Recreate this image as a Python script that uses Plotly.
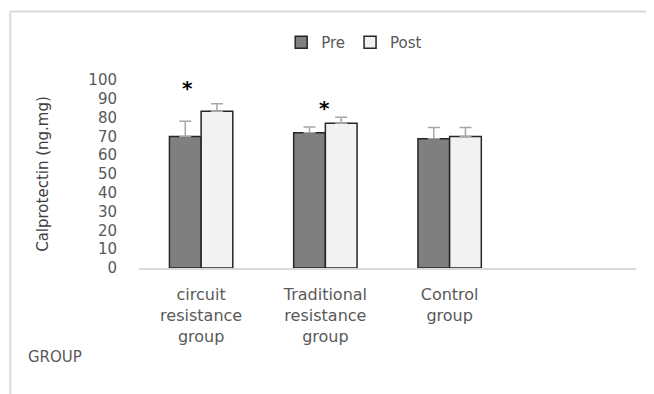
import plotly.graph_objects as go

categories = ["circuit<br>resistance<br>group", "Traditional<br>resistance<br>group", "Control<br>group"]
pre_values = [70, 72, 68.7]
pre_errors = [8, 3, 6]
post_values = [83.4, 77, 70]
post_errors = [4, 3.2, 4.8]
star_categories = [categories[0], categories[1]]
star_values = [96, 85]
star_shifts = [-14, -1]
y_ticks = [0, 10, 20, 30, 40, 50, 60, 70, 80, 90, 100]

FONT = "DejaVu Sans"
GRAY = "#595959"

fig = go.Figure()
fig.add_trace(go.Bar(
    name="Pre", x=categories, y=pre_values,
    marker=dict(color="#7f7f7f", line=dict(color="#262626", width=1.5)),
    error_y=dict(type="data", array=pre_errors, arrayminus=[0] * 3, symmetric=False,
                 color="#a6a6a6", thickness=1.5, width=6),
))
fig.add_trace(go.Bar(
    name="Post", x=categories, y=post_values,
    marker=dict(color="#f2f2f2", line=dict(color="#262626", width=1.5)),
    error_y=dict(type="data", array=post_errors, arrayminus=[0] * 3, symmetric=False,
                 color="#a6a6a6", thickness=1.5, width=6),
))

for c, v, s in zip(star_categories, star_values, star_shifts):
    fig.add_annotation(x=c, y=v, text="<b>*</b>", showarrow=False, xshift=s,
                       font=dict(family=FONT, size=20, color="#000000"))

fig.add_annotation(xref="paper", yref="paper", x=-0.227, y=-0.475, text="GROUP",
                   showarrow=False, xanchor="left", yanchor="middle",
                   font=dict(family=FONT, size=15, color=GRAY))

# chart area border (top + left)
fig.add_shape(type="line", xref="paper", yref="paper", x0=-0.259, x1=1.2, y0=1.365, y1=1.365,
              line=dict(color="#d9d9d9", width=2))
fig.add_shape(type="line", xref="paper", yref="paper", x0=-0.259, x1=-0.259, y0=-0.8, y1=1.365,
              line=dict(color="#d9d9d9", width=2))

fig.update_layout(
    width=646, height=386,
    margin=dict(l=131, r=18, t=72, b=126, autoexpand=False),
    paper_bgcolor="white", plot_bgcolor="white",
    barmode="group", bargap=0.49, bargroupgap=0,
    showlegend=True,
    legend=dict(orientation="h", x=0.433, y=1.2, xanchor="center", yanchor="middle",
                font=dict(family=FONT, size=15, color=GRAY), traceorder="normal",
                itemwidth=30),
    font=dict(family=FONT, size=15, color=GRAY),
    xaxis=dict(range=[-0.5, 3.5], showline=True, linecolor="#d9d9d9", linewidth=1.5,
               showgrid=False, ticks="", ticklabelstandoff=11,
               tickfont=dict(family=FONT, size=16, color=GRAY), automargin=False),
    yaxis=dict(range=[0, 100], tickvals=y_ticks, showgrid=False, zeroline=False,
               showline=False, ticks="", ticklabelstandoff=21,
               tickfont=dict(family=FONT, size=15, color=GRAY), automargin=False,
               title=dict(text="Calprotectin (ng.mg)", standoff=36,
                          font=dict(family=FONT, size=15, color="#404040"))),
)

fig.write_html("out.html")
